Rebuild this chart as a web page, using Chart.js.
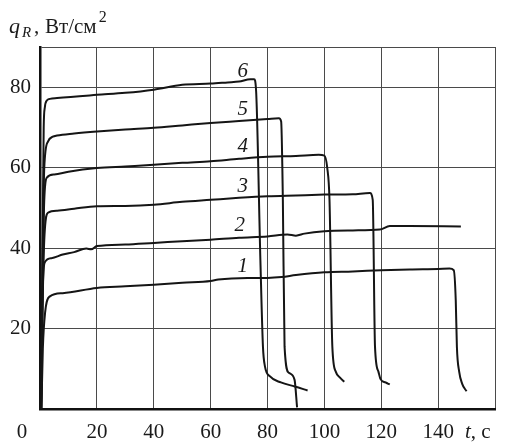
<!DOCTYPE html>
<html>
<head>
<meta charset="utf-8">
<script src="https://cdn.jsdelivr.net/npm/chart.js@4"></script>
<style>
html,body{margin:0;padding:0;background:#fff;}
#wrap{width:506px;height:446px;}
</style>
</head>
<body>
<div id="wrap"><canvas id="c" width="506" height="446"></canvas></div>
<script>
// ---- data ----
const t1 = [0.5, 1.0, 1.8, 3.5, 8, 20, 30, 40, 50, 60, 62.7, 73, 80, 85, 90, 100, 110, 120, 130, 140, 144, 145.5, 146.2, 146.6, 147.4, 148.5, 150];
const q1 = [0, 15, 24, 28, 28.8, 30.1, 30.5, 30.9, 31.4, 31.8, 32.2, 32.6, 32.6, 32.8, 33.3, 34, 34.2, 34.5, 34.7, 34.8, 34.9, 34.5, 27, 15.5, 9.3, 6.2, 4.4];

const t2 = [0.4, 0.8, 1.7, 4, 8, 12, 16.3, 18, 20, 30, 40, 50, 60, 70, 80, 87, 90, 93, 100, 110, 119.5, 123, 130, 148];
const q2 = [0, 25, 36.5, 37.5, 38.4, 39, 39.9, 39.7, 40.5, 40.9, 41.3, 41.7, 42.1, 42.6, 42.9, 43.4, 43.1, 43.6, 44.2, 44.4, 44.6, 45.5, 45.5, 45.4];

const t3 = [0.4, 0.9, 1.5, 2.8, 6, 12, 20, 30, 40, 50, 60, 70, 80, 90, 100, 110, 116, 117, 117.8, 119, 119.7, 121.5, 123];
const q3 = [0, 25, 42, 48.8, 49.3, 49.8, 50.4, 50.5, 50.8, 51.5, 52, 52.5, 52.9, 53.1, 53.3, 53.4, 53.7, 52, 15.5, 9.3, 7.5, 6.6, 6.1];

const t4 = [0.4, 0.9, 1.4, 2.4, 5, 10, 20, 30, 40, 50, 60, 70, 80, 90, 98, 100, 101, 101.8, 102.8, 104, 105.5, 107];
const q4 = [0, 30, 50, 57.5, 58.3, 59, 59.9, 60.3, 60.7, 61.2, 61.6, 62.2, 62.7, 62.9, 63.2, 63, 60, 52, 15.5, 9.3, 7.8, 6.8];

const t5 = [0.4, 0.9, 1.5, 2.8, 4.5, 6, 12, 20, 30, 40, 50, 60, 70, 80, 84, 84.8, 85.4, 86, 87.5, 89.5, 90.4];
const q5 = [0, 35, 60, 66.5, 67.7, 68, 68.5, 69, 69.5, 69.9, 70.5, 71.1, 71.6, 72.1, 72.3, 71.5, 52, 15.5, 9, 7.3, 0.4];

const t6 = [0.4, 0.9, 1.3, 1.7, 2.4, 3.5, 6, 20, 30, 40, 50, 60, 66, 70, 74, 75.3, 76, 77.5, 78.4, 79.1, 80.9, 84.7, 89.6, 94.1];
const q6 = [0, 40, 70, 75, 76.7, 77.1, 77.3, 78.1, 78.6, 79.4, 80.6, 80.9, 81.2, 81.4, 82, 82, 79, 37, 15.5, 10.6, 8.1, 6.6, 5.6, 4.6];

const curveNames = ['1', '2', '3', '4', '5', '6'];
const curveLabelT = [71.3, 70.2, 71.3, 71.3, 71.3, 71.3];
const curveLabelQ = [35.7, 46.1, 55.8, 65.7, 74.9, 84.2];

const xTicks = [0, 20, 40, 60, 80, 100, 120, 140, 160];
const yTicks = [0, 20, 40, 60, 80, 90];
const yTitle = ['q', 'R', ',', 'Вт/см', '2'];
const xTitle = ['t', ', c'];

// ---- build datasets ----
const series = [[t1, q1], [t2, q2], [t3, q3], [t4, q4], [t5, q5], [t6, q6]];
const datasets = series.map(([ts, qs], i) => ({
  label: curveNames[i],
  data: ts.map((t, k) => ({ x: t, y: qs[k] })),
  borderColor: '#151515',
  borderWidth: 2,
  pointRadius: 0,
  fill: false,
  cubicInterpolationMode: 'monotone'
}));

const SERIF = '"Liberation Serif", "DejaVu Serif", serif';

const textPlugin = {
  id: 'texts',
  afterDraw(chart) {
    const ctx = chart.ctx;
    const xs = chart.scales.x, ys = chart.scales.y;
    ctx.save();
    ctx.fillStyle = '#1a1a1a';
    ctx.textBaseline = 'alphabetic';
    // curve numbers
    ctx.font = 'italic 21px ' + SERIF;
    ctx.textAlign = 'center';
    curveNames.forEach((n, i) => {
      ctx.fillText(n, xs.getPixelForValue(curveLabelT[i]), ys.getPixelForValue(curveLabelQ[i]) + 7);
    });
    // y title
    ctx.textAlign = 'left';
    ctx.font = 'italic 22px ' + SERIF;
    ctx.fillText(yTitle[0], 9, 33);
    ctx.font = 'italic 15px ' + SERIF;
    ctx.fillText(yTitle[1], 22, 37);
    ctx.font = '21px ' + SERIF;
    ctx.fillText(yTitle[2], 34, 33);
    ctx.font = '21px ' + SERIF;
    ctx.fillText(yTitle[3], 45, 33);
    const w = ctx.measureText(yTitle[3]).width;
    ctx.font = '16px ' + SERIF;
    ctx.fillText(yTitle[4], 45 + w + 2, 22);
    // x origin label and title
    ctx.font = '21px ' + SERIF;
    ctx.textAlign = 'center';
    ctx.fillText(String(xTicks[0]), 22, 438);
    ctx.textAlign = 'left';
    ctx.font = 'italic 21px ' + SERIF;
    let tx = 465;
    ctx.fillText(xTitle[0], tx, 438);
    tx += ctx.measureText(xTitle[0]).width;
    ctx.font = '21px ' + SERIF;
    ctx.fillText(xTitle[1], tx, 438);
    ctx.restore();
  }
};

new Chart(document.getElementById('c'), {
  type: 'line',
  data: { datasets },
  plugins: [textPlugin],
  options: {
    responsive: false,
    devicePixelRatio: 1,
    animation: false,
    layout: { padding: { left: 0, right: 7, top: 47, bottom: 0 } },
    plugins: { legend: { display: false }, tooltip: { enabled: false } },
    scales: {
      x: {
        type: 'linear',
        min: 0, max: 160,
        afterBuildTicks(scale) { scale.ticks = xTicks.map(v => ({ value: v })); },
        afterFit(scale) { scale.height = 37; },
        grid: { color: '#4a4a4a', lineWidth: 1, drawTicks: false },
        border: { display: true, color: '#111', width: 2.5 },
        ticks: {
          padding: 11,
          color: '#1a1a1a',
          font: { family: SERIF, size: 21 },
          maxRotation: 0,
          autoSkip: false,
          callback: v => (v === 0 || v === 160) ? '' : String(v)
        }
      },
      y: {
        type: 'linear',
        min: 0, max: 90,
        afterBuildTicks(scale) { scale.ticks = yTicks.map(v => ({ value: v })); },
        afterFit(scale) { scale.width = 40; },
        grid: { color: '#4a4a4a', lineWidth: 1, drawTicks: false },
        border: { display: true, color: '#111', width: 2.5 },
        ticks: {
          padding: 9,
          color: '#1a1a1a',
          font: { family: SERIF, size: 21 },
          autoSkip: false,
          callback: v => (v === 0 || v === 90) ? '' : String(v)
        }
      }
    }
  }
});
</script>
</body>
</html>
